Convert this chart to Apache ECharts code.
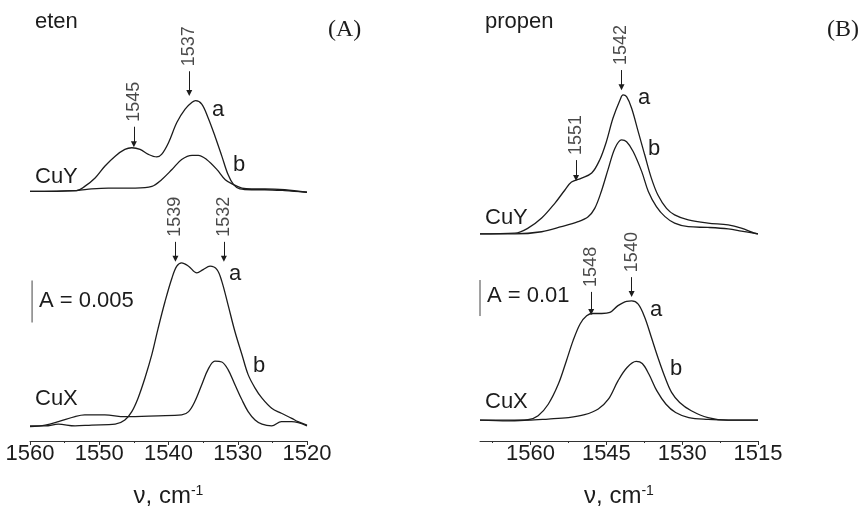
<!DOCTYPE html>
<html>
<head>
<meta charset="utf-8">
<script src="https://cdn.jsdelivr.net/npm/echarts@6/dist/echarts.min.js"></script>
<style>
  html, body { margin: 0; padding: 0; background: #fff; }
  #chart { width: 861px; height: 508px; }
</style>
</head>
<body>
<div id="chart"></div>
<script>
// ---- Spectra: wavenumber (cm-1) and absorbance ----

// eten, CuY
const etenCuY_a_nu = [1560, 1553.3, 1552.1, 1550.6, 1549.2, 1547.7, 1546.3, 1545.3, 1544.1, 1542.9, 1541.7, 1541.0, 1540.0, 1538.8, 1537.6, 1536.6, 1536.1, 1535.2, 1534.3, 1533.3, 1532.3, 1531.4, 1530.6, 1529.7, 1528.0, 1526.1, 1523.2, 1520];
const etenCuY_a_abs = [0.0000, 0.0001, 0.0006, 0.0016, 0.0030, 0.0042, 0.0050, 0.0052, 0.0050, 0.0044, 0.0041, 0.0044, 0.0058, 0.0082, 0.0098, 0.0106, 0.0108, 0.0104, 0.0088, 0.0066, 0.0042, 0.0020, 0.0008, 0.0003, 0.0002, 0.0002, 0.0001, -0.0001];
const etenCuY_b_nu = [1560, 1553.3, 1551.1, 1548.7, 1544.8, 1542.4, 1541.0, 1539.5, 1538.1, 1536.6, 1535.7, 1534.5, 1533.0, 1531.8, 1530.6, 1529.4, 1528.0, 1526.1, 1523.2, 1520];
const etenCuY_b_abs = [0.0000, 0.0001, 0.0003, 0.0004, 0.0004, 0.0006, 0.0014, 0.0026, 0.0038, 0.0043, 0.0043, 0.0038, 0.0026, 0.0014, 0.0008, 0.0004, 0.0003, 0.0003, 0.0002, -0.0001];

// eten, CuX
const etenCuX_a_nu = [1560, 1557.8, 1555.9, 1553.5, 1551.1, 1547.7, 1546.3, 1545.3, 1544.4, 1543.4, 1542.4, 1541.5, 1540.5, 1539.5, 1538.8, 1538.1, 1537.1, 1535.9, 1535.0, 1534.0, 1533.0, 1532.3, 1531.4, 1530.4, 1529.4, 1528.5, 1527.5, 1526.5, 1525.1, 1523.7, 1522.2, 1521.3, 1520];
const etenCuX_a_abs = [0.0000, 0.0000, 0.0002, 0.0000, 0.0001, 0.0002, 0.0007, 0.0017, 0.0033, 0.0057, 0.0085, 0.0116, 0.0148, 0.0176, 0.0190, 0.0194, 0.0190, 0.0182, 0.0186, 0.0190, 0.0186, 0.0172, 0.0144, 0.0112, 0.0085, 0.0061, 0.0045, 0.0033, 0.0021, 0.0015, 0.0009, 0.0005, 0.0001];
const etenCuX_b_nu = [1560, 1557.8, 1555.9, 1553.5, 1552.1, 1549.2, 1546.3, 1541.5, 1538.1, 1537.1, 1536.2, 1535.2, 1534.3, 1533.3, 1532.3, 1531.4, 1530.4, 1529.4, 1528.5, 1527.5, 1526.5, 1525.1, 1523.7, 1522.2, 1520];
const etenCuX_b_abs = [-0.0001, 0.0001, 0.0005, 0.0011, 0.0013, 0.0013, 0.0011, 0.0012, 0.0013, 0.0017, 0.0029, 0.0049, 0.0067, 0.0077, 0.0076, 0.0067, 0.0049, 0.0031, 0.0017, 0.0007, 0.0002, 0.0000, 0.0005, 0.0005, 0.0000];

// propen, CuY
const propenCuY_a_nu = [1570, 1563.1, 1560.5, 1557.8, 1555.2, 1553.2, 1551.9, 1549.9, 1547.9, 1546.3, 1545.0, 1543.7, 1542.3, 1541.7, 1541.0, 1540.0, 1538.7, 1537.4, 1536.1, 1534.8, 1533.1, 1531.5, 1528.8, 1524.9, 1520.9, 1518.3, 1515.7, 1515];
const propenCuY_a_abs = [0.0000, 0.0002, 0.0016, 0.0044, 0.0085, 0.0122, 0.0144, 0.0155, 0.0169, 0.0206, 0.0256, 0.0321, 0.0372, 0.0386, 0.0381, 0.0349, 0.0284, 0.0219, 0.0155, 0.0108, 0.0071, 0.0053, 0.0039, 0.0030, 0.0025, 0.0016, 0.0002, 0.0000];
const propenCuY_b_nu = [1570, 1563.1, 1557.8, 1553.9, 1550.6, 1548.6, 1547.3, 1546.0, 1544.6, 1543.3, 1542.0, 1541.0, 1539.7, 1538.0, 1536.7, 1535.1, 1533.4, 1531.5, 1528.8, 1524.9, 1520.9, 1518.3, 1515];
const propenCuY_b_abs = [0.0000, 0.0000, 0.0006, 0.0020, 0.0034, 0.0048, 0.0071, 0.0118, 0.0182, 0.0238, 0.0261, 0.0256, 0.0229, 0.0173, 0.0118, 0.0076, 0.0048, 0.0030, 0.0020, 0.0018, 0.0014, 0.0008, 0.0000];

// propen, CuX
const propenCuX_a_nu = [1570, 1564.4, 1560.5, 1558.5, 1556.5, 1554.5, 1552.9, 1551.6, 1550.2, 1548.9, 1547.6, 1545.9, 1544.3, 1542.7, 1541.0, 1540.0, 1538.7, 1537.4, 1536.1, 1534.8, 1533.4, 1532.1, 1530.5, 1528.2, 1524.9, 1520.9, 1515];
const propenCuX_a_abs = [0.0000, -0.0002, 0.0001, 0.0012, 0.0044, 0.0100, 0.0165, 0.0220, 0.0267, 0.0290, 0.0296, 0.0296, 0.0299, 0.0318, 0.0330, 0.0331, 0.0322, 0.0285, 0.0230, 0.0174, 0.0119, 0.0077, 0.0049, 0.0026, 0.0007, 0.0000, 0.0000];
const propenCuX_b_nu = [1570, 1560.5, 1556.5, 1552.5, 1549.3, 1546.6, 1544.6, 1542.7, 1540.9, 1539.1, 1537.9, 1536.6, 1535.0, 1533.2, 1531.3, 1528.7, 1524.9, 1520.9, 1515];
const propenCuX_b_abs = [0.0000, 0.0000, 0.0003, 0.0007, 0.0015, 0.0031, 0.0058, 0.0109, 0.0146, 0.0163, 0.0157, 0.0128, 0.0081, 0.0044, 0.0021, 0.0007, 0.0002, 0.0000, 0.0000];

// Marked band positions (cm-1)
const etenPeaksCuY = [1545, 1537];
const etenPeaksCuX = [1539, 1532];
const propenPeaksCuY = [1551, 1542];
const propenPeaksCuX = [1548, 1540];

// Axis ticks (cm-1)
const etenTicks = [1560, 1550, 1540, 1530, 1520];
const propenTicks = [1560, 1545, 1530, 1515];
const propenMinorTicks = [1567.5, 1552.5, 1537.5, 1522.5];

// Absorbance scale bars
const etenScaleBar = 0.005;
const propenScaleBar = 0.01;

// ---- Layout ----
const FONT = "'Liberation Sans', Arial, Helvetica, sans-serif";
const SERIF = "'Liberation Serif', 'Times New Roman', serif";
const INK = '#1c1c1c';

// vertical stacking of the CuY traces above the CuX traces
const etenOffset = 0.0279;
const propenOffset = 0.0517;

const panels = [
  { left: 30, width: 277, yMin: -0.0018, yMax: 0.0483 },
  { left: 480, width: 278, yMin: -0.0058, yMax: 0.1111 }
];
const GRID_TOP = 20, GRID_H = 421;
const pxPerA = panels.map(p => GRID_H / (p.yMax - p.yMin));

function pairs(nu, abs, off) {
  return nu.map((v, i) => [v, abs[i] + (off || 0)]);
}

function curve(name, axis, nu, abs, off) {
  return {
    name, type: 'line', xAxisIndex: axis, yAxisIndex: axis,
    data: pairs(nu, abs, off),
    smooth: 0.35, showSymbol: false, silent: true,
    lineStyle: { color: INK, width: 1.3 },
    z: 3
  };
}

// arrow levels [tip, tail] in absorbance units for each marked band
function peakMarks(axis, peaks, levels) {
  const gap = 5 / pxPerA[axis];
  return {
    type: 'scatter', xAxisIndex: axis, yAxisIndex: axis,
    symbolSize: 0, silent: true,
    data: peaks.map((v, i) => ({ name: String(v), value: [v, levels[i][1] + gap] })),
    label: {
      show: true, position: 'inside', rotate: 90,
      align: 'left', verticalAlign: 'middle',
      formatter: p => p.name,
      fontFamily: FONT, fontSize: 18, color: INK
    },
    markLine: {
      silent: true, animation: false,
      symbol: ['none', 'triangle'], symbolSize: 6,
      lineStyle: { color: INK, width: 1, type: 'solid' },
      label: { show: false },
      emphasis: { disabled: true },
      data: peaks.map((v, i) => [{ coord: [v, levels[i][1]] }, { coord: [v, levels[i][0]] }])
    }
  };
}

function scaleBar(axis, nu, from, size) {
  return {
    type: 'line', xAxisIndex: axis, yAxisIndex: axis, silent: true,
    data: [[nu, from], [nu, from + size]], showSymbol: false, clip: false,
    lineStyle: { color: '#444', width: 1 }
  };
}

function xName() {
  return {
    name: '{n|ν, cm}{s|-1}', nameLocation: 'middle', nameGap: 43,
    nameTextStyle: {
      rich: {
        n: { fontFamily: FONT, fontSize: 24, color: INK },
        s: { fontFamily: FONT, fontSize: 14, color: INK, verticalAlign: 'top' }
      }
    }
  };
}

const axisLabelStyle = { fontFamily: FONT, fontSize: 22, color: INK, margin: 2 };
const axisLineStyle = { show: true, onZero: false, lineStyle: { color: '#333', width: 1 } };

const texts = [
  ['eten', 35, 30, 22, FONT], ['(A)', 328, 38, 24, SERIF],
  ['CuY', 35, 185, 22, FONT], ['a', 212, 118, 22, FONT], ['b', 233, 173, 22, FONT],
  ['A = 0.005', 39, 309, 22, FONT],
  ['CuX', 35, 407, 22, FONT], ['a', 229, 282, 22, FONT], ['b', 253, 374, 22, FONT],
  ['propen', 485, 30, 22, FONT], ['(B)', 827, 38, 24, SERIF],
  ['CuY', 485, 226, 22, FONT], ['a', 638, 106, 22, FONT], ['b', 648, 157, 22, FONT],
  ['A = 0.01', 487, 304, 22, FONT],
  ['CuX', 485, 410, 22, FONT], ['a', 650, 318, 22, FONT], ['b', 670, 377, 22, FONT]
];

const option = {
  backgroundColor: '#fff',
  animation: false,
  grid: panels.map(p => ({
    left: p.left, width: p.width, top: GRID_TOP, height: GRID_H,
    containLabel: false, outerBoundsMode: 'none'
  })),
  xAxis: [
    Object.assign({
      type: 'value', gridIndex: 0, inverse: true, position: 'bottom',
      min: 1520, max: 1560, interval: 10,
      axisLine: axisLineStyle,
      axisTick: { show: true, length: 4, lineStyle: { color: '#333' } },
      minorTick: { show: true, splitNumber: 2, length: 2, lineStyle: { color: '#333' } },
      axisLabel: Object.assign({
        customValues: etenTicks,
        formatter: v => String(v)
      }, axisLabelStyle),
      splitLine: { show: false }
    }, xName()),
    Object.assign({
      type: 'value', gridIndex: 1, inverse: true, position: 'bottom',
      min: 1515, max: 1570, interval: 15,
      axisLine: axisLineStyle,
      axisTick: { show: true, length: 4, customValues: propenTicks, lineStyle: { color: '#333' } },
      axisLabel: Object.assign({
        customValues: propenTicks,
        formatter: v => (propenTicks.indexOf(v) >= 0 ? String(v) : '')
      }, axisLabelStyle),
      splitLine: { show: false }
    }, xName()),
    {
      type: 'value', gridIndex: 1, inverse: true, position: 'bottom',
      min: 1515, max: 1570, interval: 7.5,
      axisLine: { show: false, onZero: false },
      axisTick: { show: true, length: 2, customValues: propenMinorTicks, lineStyle: { color: '#333' } },
      axisLabel: { show: false },
      splitLine: { show: false }
    }
  ],
  yAxis: panels.map((p, i) => ({
    type: 'value', gridIndex: i, min: p.yMin, max: p.yMax, show: false,
    splitLine: { show: false }
  })),
  series: [
    curve('CuY a', 0, etenCuY_a_nu, etenCuY_a_abs, etenOffset),
    curve('CuY b', 0, etenCuY_b_nu, etenCuY_b_abs, etenOffset),
    curve('CuX a', 0, etenCuX_a_nu, etenCuX_a_abs),
    curve('CuX b', 0, etenCuX_b_nu, etenCuX_b_abs),
    curve('CuY a', 1, propenCuY_a_nu, propenCuY_a_abs, propenOffset),
    curve('CuY b', 1, propenCuY_b_nu, propenCuY_b_abs, propenOffset),
    curve('CuX a', 1, propenCuX_a_nu, propenCuX_a_abs),
    curve('CuX b', 1, propenCuX_b_nu, propenCuX_b_abs),
    peakMarks(0, etenPeaksCuY, [[0.0335, 0.0356], [0.0396, 0.0422]]),
    peakMarks(0, etenPeaksCuX, [[0.0199, 0.0219], [0.0199, 0.0219]]),
    peakMarks(1, propenPeaksCuY, [[0.0672, 0.0722], [0.0924, 0.0972]]),
    peakMarks(1, propenPeaksCuX, [[0.0300, 0.0356], [0.0350, 0.0397]]),
    scaleBar(0, 1559.7, 0.0123, etenScaleBar),
    scaleBar(1, 1570, 0.0289, propenScaleBar)
  ],
  graphic: texts.map(([t, x, base, size, fam]) => ({
    type: 'text', silent: true,
    style: {
      text: t, x: x, y: base - 0.36 * size,
      fontFamily: fam, fontSize: size, fill: INK,
      align: 'left', verticalAlign: 'middle'
    }
  }))
};

const chart = echarts.init(document.getElementById('chart'), null, { renderer: 'canvas' });
chart.setOption(option);
</script>
</body>
</html>
